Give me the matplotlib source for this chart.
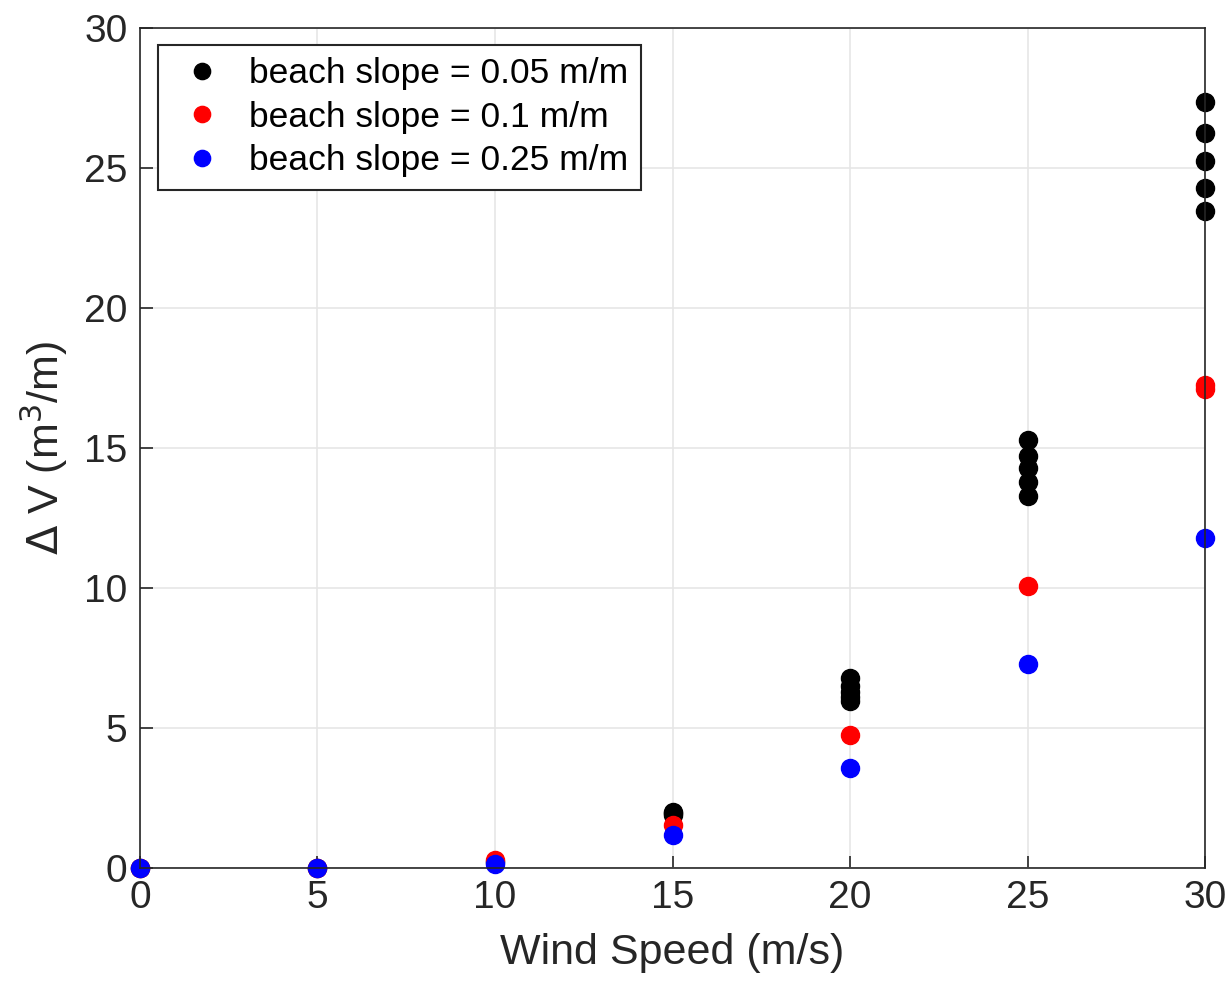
import matplotlib.pyplot as plt

plt.rcParams['font.family'] = ['Liberation Sans', 'DejaVu Sans']

# wind speed (m/s) for each run, and volume change (m^3/m) per beach slope
wind_black = [0, 5, 10, 15, 15, 15, 20, 20, 20, 20, 20,
              25, 25, 25, 25, 25, 30, 30, 30, 30, 30]
dv_black = [0, 0, 0.2, 1.9, 1.95, 2.0, 5.95, 6.1, 6.3, 6.5, 6.8,
            13.3, 13.8, 14.3, 14.7, 15.3, 23.45, 24.3, 25.25, 26.25, 27.35]

wind_red = [0, 5, 10, 15, 20, 25, 30, 30]
dv_red = [0, 0, 0.28, 1.55, 4.75, 10.07, 17.1, 17.25]

wind_blue = [0, 5, 10, 15, 20, 25, 30]
dv_blue = [0, 0, 0.15, 1.18, 3.57, 7.29, 11.79]

fig = plt.figure(figsize=(12.3, 9.81), dpi=100)
ax = fig.add_axes([0.1138, 0.1152, 0.8659, 0.8563])

ax.plot(wind_black, dv_black, 'o', color='black', markersize=13,
        clip_on=False, label='beach slope = 0.05 m/m')
ax.plot(wind_red, dv_red, 'o', color='red', markersize=13,
        clip_on=False, label='beach slope = 0.1 m/m')
ax.plot(wind_blue, dv_blue, 'o', color='blue', markersize=13,
        clip_on=False, label='beach slope = 0.25 m/m')

ax.set_xlim(0, 30)
ax.set_ylim(0, 30)
ax.set_xticks(range(0, 31, 5))
ax.set_yticks(range(0, 31, 5))
ax.grid(True, color='#e6e6e6', linewidth=1.2)
ax.set_axisbelow(True)

for s in ax.spines.values():
    s.set_color('#262626')
    s.set_linewidth(1.2)
ax.tick_params(direction='in', length=9, width=1.2, colors='#262626',
               labelsize=28, top=False, right=False, pad=9)

ax.set_xlabel('Wind Speed (m/s)', fontsize=31, color='#262626', labelpad=12)
ax.set_ylabel(r'$\Delta$ V (m$^3$/m)', fontsize=31, color='#262626',
              labelpad=10)

leg = ax.legend(loc='upper left', fontsize=25.5, frameon=True, fancybox=False,
                edgecolor='#262626', framealpha=1, handletextpad=0.45,
                borderpad=0.35, labelspacing=0.3, markerscale=0.9,
                handlelength=1.78, borderaxespad=0,
                bbox_to_anchor=(0.017, 0.98))
leg.get_frame().set_linewidth(1.5)

fig.savefig('out.png', dpi=100)
